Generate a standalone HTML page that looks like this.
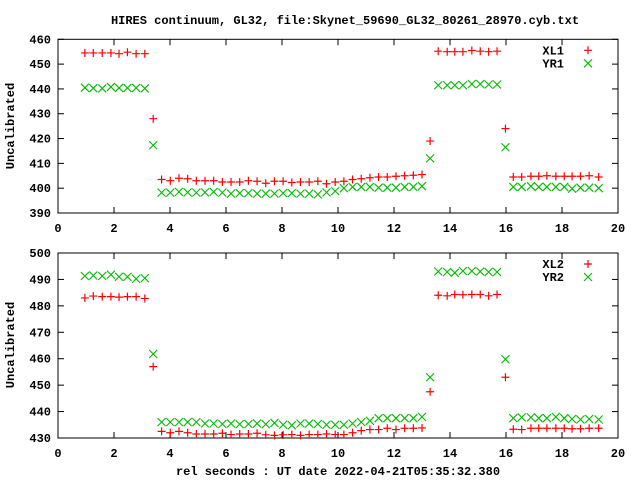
<!DOCTYPE html>
<html><head><meta charset="utf-8"><style>
body{margin:0;background:#fff}
svg text{font-family:"Liberation Mono",monospace;font-weight:bold;font-size:12px;fill:#000}
</style></head><body>
<svg id="c" width="640" height="480" xmlns="http://www.w3.org/2000/svg">
<text x="345" y="24" text-anchor="middle">HIRES continuum, GL32, file:Skynet_59690_GL32_80261_28970.cyb.txt</text>
<text x="338" y="475" text-anchor="middle">rel seconds : UT date 2022-04-21T05:35:32.380</text>
<text transform="translate(14,126) rotate(-90)" text-anchor="middle">Uncalibrated</text>
<text transform="translate(14,345) rotate(-90)" text-anchor="middle">Uncalibrated</text>
</svg>
<script>
const xs=[0.96,1.26,1.58,1.89,2.18,2.48,2.79,3.10,3.40,
3.70,4.01,4.32,4.63,4.94,5.25,5.56,5.87,6.18,6.49,6.80,7.11,7.42,7.73,8.04,8.35,8.66,8.97,9.28,9.59,9.90,10.21,10.52,10.83,11.14,11.45,11.76,12.07,12.38,12.69,13.00,
13.29,13.58,13.90,14.17,14.46,14.78,15.08,15.38,15.68,15.98,
16.26,16.56,16.89,17.17,17.46,17.78,18.08,18.36,18.66,18.97,19.31];
const xl1=[454.5,454.5,454.5,454.5,454.2,454.8,454.2,454.2,428,
403.5,403,404,403.8,403,403,403,402.5,402.5,402.5,403,402.8,402,402.8,402.8,402.3,402.5,402.5,402.8,401.8,402.5,402.8,403.5,403.8,404.2,404.5,404.5,404.8,405,405.2,405.5,
419,455.2,455,455,455,455.5,455.2,455,455.2,424,
404.5,404.5,404.8,404.8,405,404.8,404.8,404.8,404.8,405,404.5];
const yr1=[440.5,440.3,440.2,440.8,440.4,440.4,440.4,440.2,417.3,
398.2,398.2,398.5,398.3,398.2,398.3,398.5,398.2,397.8,398,398,397.8,397.8,397.8,398,398,397.8,397.8,397.5,398.3,398.8,400,400.5,400.5,400.5,400.2,400.2,400.2,400.5,400.5,400.8,
412,441.5,441.5,441.5,441.5,442,442,441.8,441.8,416.5,
400.5,400.5,400.8,400.5,400.5,400.5,400.5,399.8,400.2,400.2,400];
const xl2=[483,483.7,483.5,483.5,483.3,483.5,483.5,482.8,457,
432.5,432,432.5,432,431.5,431.5,431.5,431.8,431.3,431.5,431.5,431.8,431.2,431,431.2,431.3,431,431.3,431.3,431.5,431.3,431.3,432,432.8,433.2,433.2,433.7,433.2,433.7,433.7,433.8,
447.5,484,483.8,484.3,484.2,484.3,484.3,483.8,484.3,453,
433.3,433.2,433.7,433.7,433.7,433.7,433.7,433.5,433.5,433.7,433.7];
const yr2=[491.3,491.5,491.3,491.8,491,491,490.2,490.5,461.8,
436,436,436,436,436,435.5,435.5,435.3,435.5,435.2,435.3,435.5,435.2,435.7,435,434.8,435.5,435.5,435.3,435,435,435,435.5,436,436.5,437.5,437.5,437.5,437.5,437.5,438,
453,493,492.8,492.5,493.2,493.2,493,492.8,492.8,459.8,
437.5,437.8,437.8,437.5,437.5,438,437.5,437.2,437,437.2,437];
const xTicks=[0,2,4,6,8,10,12,14,16,18,20];
const yTicksTop=[390,400,410,420,430,440,450,460];
const yTicksBot=[430,440,450,460,470,480,490,500];

const svg=document.getElementById('c');
const NS='http://www.w3.org/2000/svg';
function mk(tag,attrs,parent){const e=document.createElementNS(NS,tag);for(const k in attrs)e.setAttribute(k,attrs[k]);(parent||svg).appendChild(e);return e;}

function panel(name,top,bot,ymin,ymax,yticks,s1,s2,n1,n2){
  const L=58,R=618;
  const g=mk('g',{});
  
  
  const X=v=>L+(v-0)/(20-0)*(R-L);
  const Y=v=>bot-(v-ymin)/(ymax-ymin)*(bot-top);
  const fr=mk('rect',{x:L,y:top,width:R-L,height:bot-top,fill:'none',stroke:'#000','stroke-width':1},g);
  
  
  xTicks.forEach(t=>{
    const x=X(t);
    mk('line',{x1:x,y1:bot,x2:x,y2:bot-6,stroke:'#000'},g);
    mk('line',{x1:x,y1:top,x2:x,y2:top+6,stroke:'#000'},g);
    const tx=mk('text',{x:x,y:bot+19,'text-anchor':'middle'},g);
    tx.textContent=t;
    
    
  });
  yticks.forEach(t=>{
    const y=Y(t);
    mk('line',{x1:L,y1:y,x2:L+6,y2:y,stroke:'#000'},g);
    mk('line',{x1:R,y1:y,x2:R-6,y2:y,stroke:'#000'},g);
    const tx=mk('text',{x:51,y:y+4,'text-anchor':'end'},g);
    tx.textContent=t;
    
    
  });
  function plus(x,y,p){const e=mk('path',{d:`M${x-4},${y}h8M${x},${y-4}v8`,stroke:'#f00','stroke-width':1.2,fill:'none'},p);return e;}
  function cross(x,y,p){const e=mk('path',{d:`M${x-4},${y-4}l8,8M${x-4},${y+4}l8,-8`,stroke:'#0b0','stroke-width':1.1,fill:'none'},p);return e;}
  xs.forEach((v,i)=>{
    const e=plus(X(v),Y(s1[i]),g);
    
    
  });
  xs.forEach((v,i)=>{
    const e=cross(X(v),Y(s2[i]),g);
    
    
  });
  const l1=mk('text',{x:564,y:top+15,'text-anchor':'end'},g);
  l1.textContent=n1;
  
  
  const m1=plus(588,top+11,g);
  
  
  const l2=mk('text',{x:564,y:top+28,'text-anchor':'end'},g);
  l2.textContent=n2;
  
  
  const m2=cross(588,top+24,g);
  
  
}
panel('top',39.3,213,390,460,yTicksTop,xl1,yr1,'XL1','YR1');
panel('bottom',253,438,430,500,yTicksBot,xl2,yr2,'XL2','YR2');
</script>
</body></html>
